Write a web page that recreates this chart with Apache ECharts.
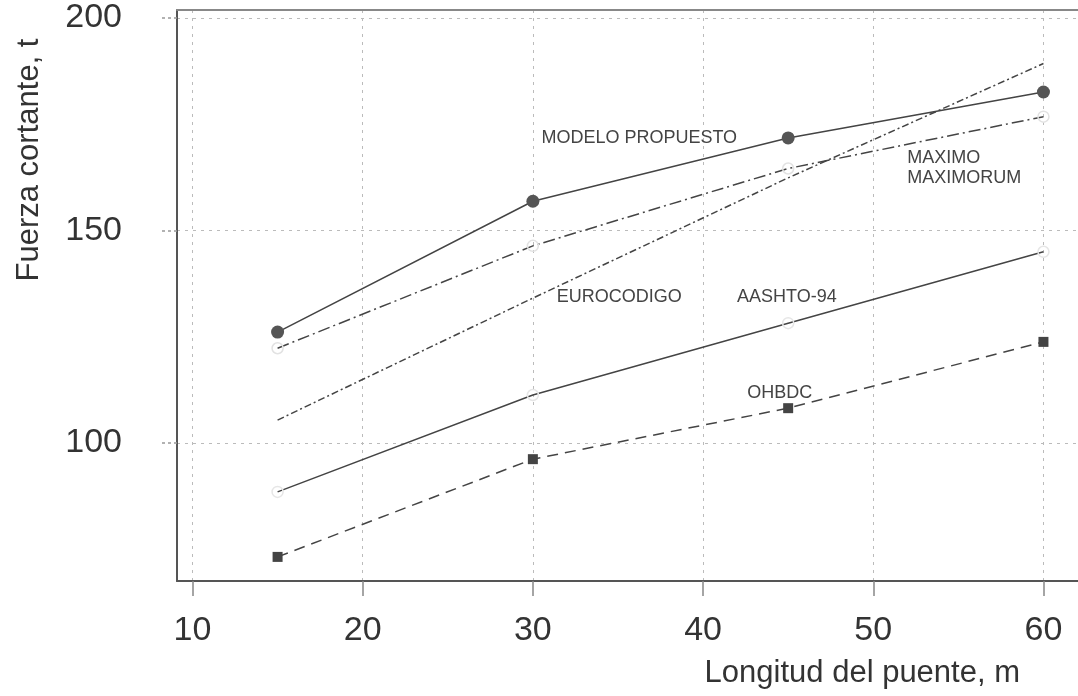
<!DOCTYPE html>
<html>
<head>
<meta charset="utf-8">
<script src="https://cdn.jsdelivr.net/npm/echarts@6/dist/echarts.min.js"></script>
<style>
  html, body { margin: 0; padding: 0; background: #fff; }
  #chart { width: 1078px; height: 696px; }
</style>
</head>
<body>
<div id="chart"></div>
<script>
// longitud del puente (m)
const spans = [15, 30, 45, 60]
// fuerza cortante (t) por norma
const modelo = [126.1, 156.9, 171.8, 182.6]
const maximo = [122.3, 146.4, 164.6, 176.8]
const eurocodigo = [105.4, 134.1, 162.4, 189.3]
const aashto = [88.5, 111.3, 128.2, 145.0]
const ohbdc = [73.2, 96.2, 108.2, 123.8]
const xTicks = [10, 20, 30, 40, 50, 60]
const yTicks = [100, 150, 200]

// etiquetas sobre las curvas: [texto, x, y] en unidades de datos
const notes = [
  ['MODELO PROPUESTO', 30.5, 171.8],
  ['MAXIMO\nMAXIMORUM', 52.0, 164.7],
  ['EUROCODIGO', 31.4, 134.4],
  ['AASHTO-94', 42.0, 134.4],
  ['OHBDC', 42.6, 111.8]
]

const font = 'Liberation Sans, Arial, sans-serif'
const ink = '#444'

function pairs (ys) {
  return spans.map((x, i) => [x, ys[i]])
}

const chart = echarts.init(document.getElementById('chart'))

const option = {
  animation: false,
  backgroundColor: '#fff',
  grid: { left: 177, right: 0, top: 10, bottom: 115 },
  xAxis: [
    {
      type: 'value',
      min: 9.09,
      max: 62.03,
      axisLine: { lineStyle: { color: '#555', width: 2 } },
      axisTick: { show: true, customValues: xTicks, length: 15, lineStyle: { color: '#888', width: 1.5 } },
      axisLabel: { customValues: xTicks, fontSize: 34, color: '#333', margin: 33, fontFamily: font },
      splitLine: { show: true, lineStyle: { type: [3, 5], color: '#bbb' } }
    },
    {
      type: 'value',
      position: 'top',
      min: 9.09,
      max: 62.03,
      axisLine: { show: true, lineStyle: { color: '#888', width: 2 } },
      axisTick: { show: false },
      axisLabel: { show: false },
      splitLine: { show: false }
    }
  ],
  yAxis: {
    type: 'value',
    min: 67.53,
    max: 201.9,
    axisLine: { show: true, lineStyle: { color: '#555', width: 2 } },
    axisTick: { show: true, customValues: yTicks, length: 16, lineStyle: { color: '#999', width: 1.5, type: [3, 3] } },
    axisLabel: { customValues: yTicks, fontSize: 34, color: '#333', margin: 55, fontFamily: font },
    splitLine: { show: true, lineStyle: { type: [3, 5], color: '#bbb' } }
  },
  series: [
    {
      name: 'MODELO PROPUESTO',
      type: 'line',
      data: pairs(modelo),
      symbol: 'circle',
      symbolSize: 13,
      itemStyle: { color: '#555' },
      lineStyle: { color: ink, width: 1.5 }
    },
    {
      name: 'MAXIMO MAXIMORUM',
      type: 'line',
      data: pairs(maximo),
      symbol: 'circle',
      symbolSize: 11,
      itemStyle: { color: 'rgba(0,0,0,0)', borderColor: '#e2e2e2', borderWidth: 1.5 },
      lineStyle: { color: ink, width: 1.5, type: [12, 4, 2, 4] }
    },
    {
      name: 'EUROCODIGO',
      type: 'line',
      data: pairs(eurocodigo),
      showSymbol: false,
      lineStyle: { color: ink, width: 1.5, type: [7, 3, 2, 3] }
    },
    {
      name: 'AASHTO-94',
      type: 'line',
      data: pairs(aashto),
      symbol: 'circle',
      symbolSize: 11,
      itemStyle: { color: 'rgba(0,0,0,0)', borderColor: '#e6e6e6', borderWidth: 1.5 },
      lineStyle: { color: ink, width: 1.5 }
    },
    {
      name: 'OHBDC',
      type: 'line',
      data: pairs(ohbdc),
      symbol: 'rect',
      symbolSize: 10,
      itemStyle: { color: '#444' },
      lineStyle: { color: ink, width: 1.5, type: [11, 7] }
    }
  ]
}

chart.setOption(option)

// textos de ejes y etiquetas de curvas
const graphic = [
  {
    type: 'text',
    x: 1020,
    y: 673,
    style: { text: 'Longitud del puente, m', fontSize: 31, fill: '#333', fontFamily: font, align: 'right', verticalAlign: 'middle' }
  },
  {
    type: 'text',
    x: 29,
    y: 160,
    rotation: Math.PI / 2,
    style: { text: 'Fuerza cortante, t', fontSize: 31, fill: '#333', fontFamily: font, align: 'center', verticalAlign: 'middle' }
  }
]
notes.forEach(n => {
  const p = chart.convertToPixel({ xAxisIndex: 0, yAxisIndex: 0 }, [n[1], n[2]])
  graphic.push({
    type: 'text',
    x: p[0],
    y: p[1],
    style: { text: n[0], fontSize: 18, lineHeight: 20, fill: '#444', fontFamily: font, align: 'left', verticalAlign: 'middle' }
  })
})
chart.setOption({ graphic: graphic })
</script>
</body>
</html>
